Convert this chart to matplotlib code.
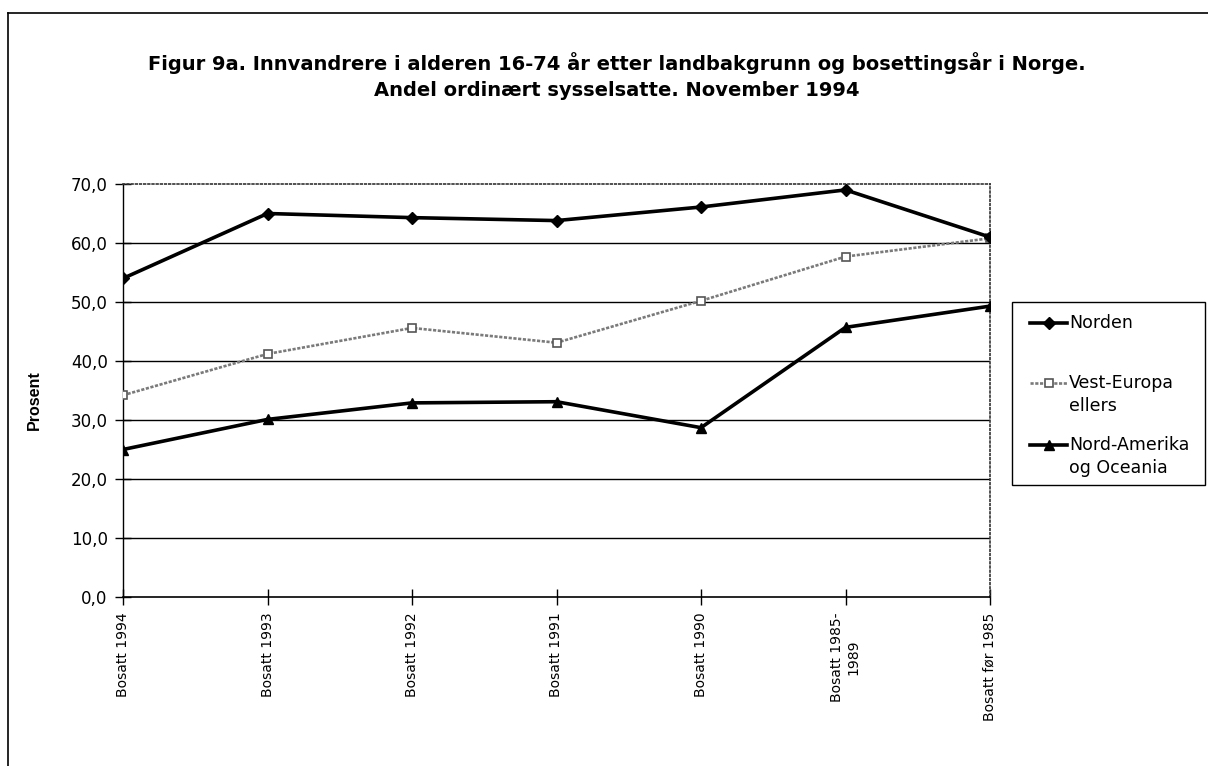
import matplotlib
matplotlib.use("Agg")
import matplotlib.pyplot as plt
from matplotlib.lines import Line2D
from matplotlib.patches import Rectangle
from matplotlib.ticker import FixedLocator, FuncFormatter

plt.rcParams['font.family'] = ['DejaVu Sans']

categories = ["Bosatt 1994", "Bosatt 1993", "Bosatt 1992", "Bosatt 1991",
              "Bosatt 1990", "Bosatt 1985-\n1989", "Bosatt før 1985"]
series_names = ["Norden", "Vest-Europa\nellers", "Nord-Amerika\nog Oceania"]
norden = [54.0, 65.0, 64.3, 63.8, 66.1, 69.0, 61.0]
vest_europa = [34.2, 41.2, 45.6, 43.1, 50.2, 57.7, 60.8]
nord_amerika = [25.0, 30.1, 32.9, 33.1, 28.7, 45.7, 49.3]
yticks = [0, 10, 20, 30, 40, 50, 60, 70]

W, H = 1208, 766
fig = plt.figure(figsize=(W / 100, H / 100), dpi=100)
ax = fig.add_axes([123 / W, 1 - 597 / H, (990 - 123) / W, (597 - 184) / H])

x = list(range(len(categories)))

styles = [
    dict(color='black', lw=2.6, marker='D', ms=6, mfc='black', mec='black'),
    dict(color='#7a7a7a', lw=1.9, linestyle=(0, (1.2, 0.6)), marker='s', ms=6,
         mfc='white', mec='#555555', mew=1.2),
    dict(color='black', lw=2.6, marker='^', ms=7, mfc='black', mec='black'),
]
for vals, st, z in zip([norden, vest_europa, nord_amerika], styles, [5, 4, 5]):
    ax.plot(x, vals, zorder=z, **st)

ax.set_xlim(0, len(categories) - 1)
ax.set_ylim(0, 70)
ax.yaxis.set_major_locator(FixedLocator(yticks))
ax.yaxis.set_major_formatter(FuncFormatter(lambda v, p: f"{v:.1f}".replace('.', ',')))
ax.set_xticks(x)
ax.set_xticklabels(categories, rotation=90, fontsize=10, ha='center', va='top',
                   multialignment='center')
ax.tick_params(axis='y', labelsize=12, direction='inout', length=12, width=1, pad=5)
ax.tick_params(axis='x', direction='inout', length=12, width=1, pad=5)

for v in yticks[1:-1]:
    ax.axhline(v, color='black', lw=1.0, zorder=1)

for s in ['top', 'right']:
    ax.spines[s].set_linestyle((0, (1, 1.5)))
    ax.spines[s].set_color('#333333')
    ax.spines[s].set_linewidth(1.2)
ax.spines['left'].set_linewidth(1.0)
ax.spines['bottom'].set_linewidth(1.2)

ax.set_ylabel('Prosent', fontsize=11.5, fontweight='bold',
              family=['Liberation Sans', 'DejaVu Sans'])
ax.yaxis.set_label_coords((42 - 123) / (990 - 123), (597 - 400) / (597 - 184))

fig.text(617 / W, 1 - 63 / H,
         "Figur 9a. Innvandrere i alderen 16-74 år etter landbakgrunn og bosettingsår i Norge.",
         ha='center', va='center', fontsize=14.0, fontweight='bold')
fig.text(617 / W, 1 - 90 / H,
         "Andel ordinært sysselsatte. November 1994",
         ha='center', va='center', fontsize=14.0, fontweight='bold')

# legend box (manual, to mimic the original layout)
fig.add_artist(Rectangle((1012 / W, 1 - 485 / H), (1205 - 1012) / W, (485 - 302) / H,
                         transform=fig.transFigure, fill=False, ec='black', lw=1.0))
entry_y = [323, 383, 445]
for name, st, yy in zip(series_names, styles, entry_y):
    yf = 1 - yy / H
    fig.add_artist(Line2D([1030 / W, 1067 / W], [yf, yf], transform=fig.transFigure,
                          color=st['color'], lw=st['lw'],
                          linestyle=st.get('linestyle', '-')))
    fig.add_artist(Line2D([1048.5 / W], [yf], transform=fig.transFigure, lw=0,
                          marker=st['marker'], ms=st['ms'], mfc=st['mfc'],
                          mec=st['mec'], mew=st.get('mew', 1)))
    for i, ln in enumerate(name.split('\n')):
        fig.text(1069 / W, 1 - (yy + i * 23) / H, ln, ha='left', va='center',
                 fontsize=12.5)

fig.add_artist(Line2D([8 / W, 8 / W], [0, 1 - 13 / H], transform=fig.transFigure,
                      color='black', lw=1.2))
fig.add_artist(Line2D([8 / W, 1], [1 - 13 / H, 1 - 13 / H], transform=fig.transFigure,
                      color='black', lw=1.2))

fig.savefig('out.png', dpi=100)
